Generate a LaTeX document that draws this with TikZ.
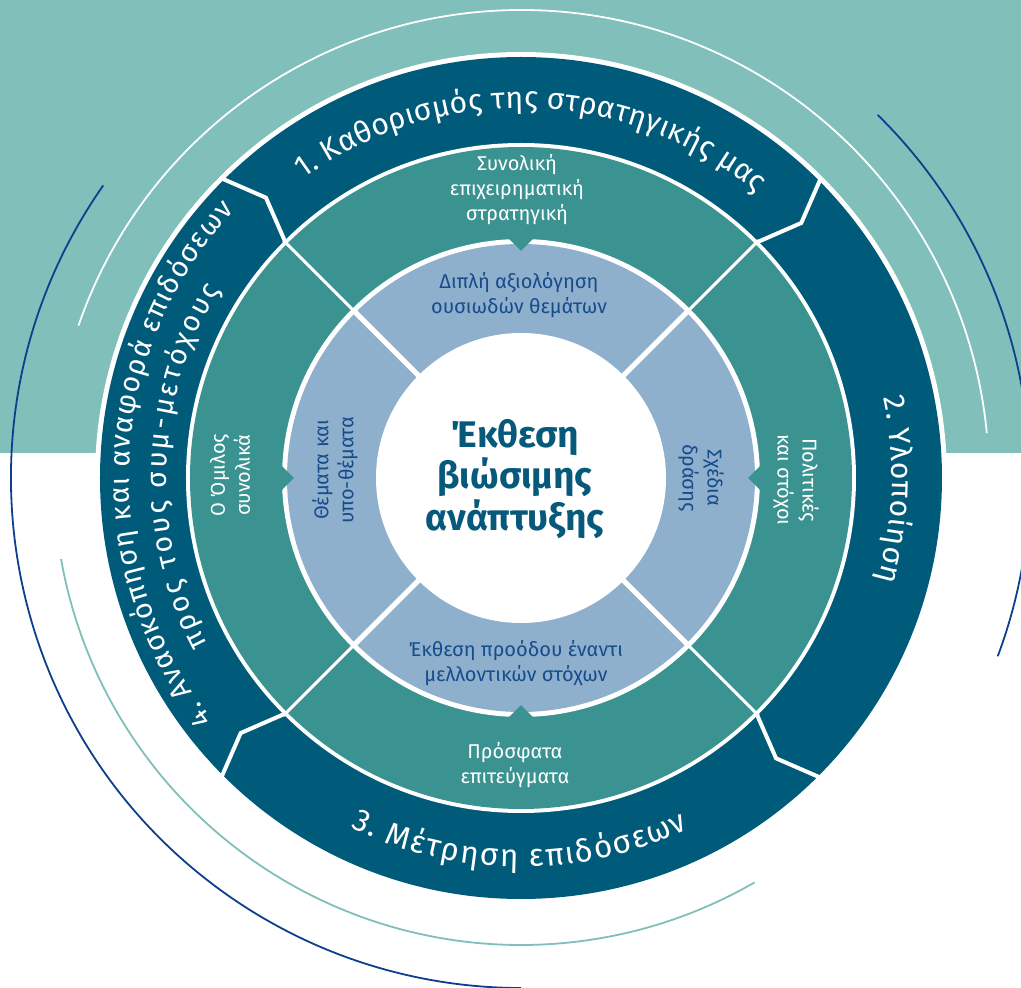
\documentclass[tikz,border=0pt]{standalone}
\usepackage{fontspec}
\setmainfont{Fira Sans}
\usetikzlibrary{decorations.text}
\definecolor{bgteal}{HTML}{80BFBA}
\definecolor{ringdark}{HTML}{005B7A}
\definecolor{ringteal}{HTML}{3A9391}
\definecolor{ringblue}{HTML}{8FB0CD}
\definecolor{textblue}{HTML}{164C8C}
\definecolor{centerblue}{HTML}{06597A}
\definecolor{arcnavy}{HTML}{0E3F8C}
\tikzset{
  tealtxt/.style={text=white, font=\fontsize{20}{25}\selectfont, align=center, inner sep=0pt},
  bluetxt/.style={text=textblue, font=\fontsize{20}{25}\selectfont, align=center, inner sep=0pt},
  thinarc/.style={line width=1.8pt},
  ringtext/.style={decorate, decoration={text along path, text align={fit to path}, text={#1}}}
}
\begin{document}
\begin{tikzpicture}[x=1pt,y=1pt]
\useasboundingbox (-521,-510) rectangle (500,478);
\fill[bgteal] (-521,25) rectangle (500,478);
% thin outer arcs
\draw[arcnavy, thinarc] (145:510) arc[start angle=145, end angle=270, radius=510];
\draw[arcnavy, thinarc] (45.5:509) arc[start angle=45.5, end angle=-20.5, radius=509];
\draw[white, thinarc] (5.5:468) arc[start angle=5.5, end angle=161, radius=468];
\draw[bgteal, thinarc] (190:467) arc[start angle=190, end angle=300, radius=467];
% rings
\fill[white] (0,0) circle[radius=426];
\fill[ringdark] (0,0) circle[radius=421];
\fill[white] (0,0) circle[radius=335];
\fill[ringteal] (0,0) circle[radius=331];
\fill[white] (0,0) circle[radius=239];
\fill[ringblue] (0,0) circle[radius=234];
\fill[white] (0,0) circle[radius=145];
% separators
\foreach \a in {45,135,225,315}{
  \draw[white, line width=5pt] (\a:140) -- (\a:237);
  \draw[white, line width=3pt] (\a:236) -- (\a:336);
  \draw[white, line width=4pt, line join=miter] (\a:333) -- ({\a-2.7}:379) -- (\a:424);
}
% arrow notches
\foreach \a in {0,90,180,270}{
  \fill[ringteal] (\a:227) -- ({\a+3.4}:242) -- ({\a-3.4}:242) -- cycle;
}
% outer ring texts
\path[ringtext={|\fontsize{30}{30}\selectfont\color{white}|1. Καθορισμός της στρατηγικής μας}]
  (126:370) arc[start angle=126, end angle=50.5, radius=370];
\path[ringtext={|\fontsize{30}{30}\selectfont\color{white}|2. Υλοποίηση}]
  (12.5:371) arc[start angle=12.5, end angle=-16, radius=371];
\path[ringtext={|\fontsize{31.5}{31.5}\selectfont\color{white}|3. Μέτρηση επιδόσεων}]
  (244:389) arc[start angle=244, end angle=295.5, radius=389];
\path[ringtext={|\fontsize{28.5}{28.5}\selectfont\color{white}|4. Ανασκόπηση και αναφορά επιδόσεων}]
  (218:392) arc[start angle=218, end angle=137, radius=392];
\path[ringtext={|\fontsize{28.5}{28.5}\selectfont\color{white}|προς τους συμ-μετόχους}]
  (208:355) arc[start angle=208, end angle=148, radius=355];
% teal ring texts
\node[tealtxt] (t1) at (-4,288) {Συνολική\\επιχειρηματική\\στρατηγική};
\node[tealtxt, rotate=-90] (t2) at (275,-2) {Πολιτικές\\και στόχοι};
\node[tealtxt] (t3) at (-6,-287) {Πρόσφατα\\επιτεύγματα};
\node[tealtxt, rotate=90] (t4) at (-291,3) {Ο Όμιλος\\συνολικά};
% blue ring texts
\node[bluetxt] (b1) at (-2,183) {Διπλή αξιολόγηση\\ουσιωδών θεμάτων};
\node[bluetxt, rotate=-90] (b2) at (180,0) {Σχέδια\\δράσης};
\node[bluetxt] (b3) at (-5,-185) {Έκθεση προόδου έναντι\\μελλοντικών στόχων};
\node[bluetxt, rotate=90] (b4) at (-186,8) {Θέματα και\\υπο-θέματα};
% centre
\node[text=centerblue, font=\bfseries\fontsize{37}{41.5}\selectfont, align=center, inner sep=0pt] (c) at (-6,-1) {Έκθεση\\βιώσιμης\\ανάπτυξης};
\end{tikzpicture}
\end{document}
